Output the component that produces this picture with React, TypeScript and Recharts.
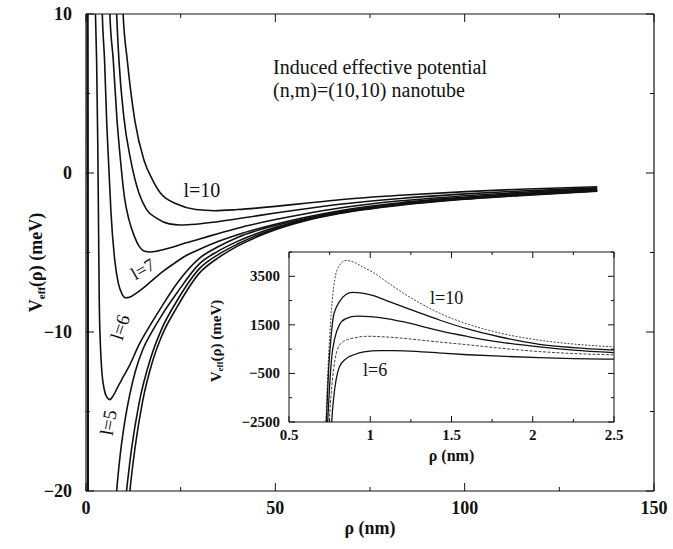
import React from 'react';
import { LineChart, Line, XAxis, YAxis, ReferenceDot } from 'recharts';

const SERIF = 'Liberation Serif, Times New Roman, serif';
const INK = '#111';

// ---- main plot: V_eff(rho) in meV vs rho in nm, one array per angular momentum l ----
const mainL10 = [[9.3,13],[9.8,10],[10.9,7.1],[12.9,3.3],[15.3,0.82],[17.5,-0.4],[19.7,-1.28],[24,-1.95],[29,-2.3],[34,-2.37],[40,-2.3],[50,-2.1],[58,-1.9],[67,-1.68],[83,-1.4],[99,-1.19],[114.5,-1.02],[135,-0.87]];
const mainL9 = [[7.7,13],[8.1,10],[8.7,7.1],[10,3.5],[11.8,0.82],[14,-1.28],[16,-2.3],[18.7,-2.85],[22,-3.2],[25,-3.27],[29,-3.22],[33.5,-3.1],[40,-2.88],[50,-2.52],[58,-2.25],[67,-1.97],[83,-1.6],[99,-1.33],[114.5,-1.13],[135,-0.94]];
const mainL8 = [[5.9,13],[6.3,10],[7.2,7.1],[8.2,3.3],[9.1,0.82],[10.2,-1.6],[11.3,-2.9],[12.8,-4.0],[14,-4.6],[15.3,-4.9],[17,-4.97],[19,-4.9],[23,-4.65],[26,-4.42],[30,-4.15],[35,-3.8],[40,-3.47],[50,-2.93],[58,-2.56],[67,-2.2],[83,-1.75],[99,-1.45],[114.5,-1.22],[135,-1.0]];
const mainL7 = [[4.0,13],[4.3,10],[4.9,7.1],[5.5,3],[6.0,0.5],[6.6,-2.5],[7.6,-5.5],[8.5,-6.9],[9.5,-7.6],[10.5,-7.85],[11.5,-7.82],[13,-7.6],[15,-7.25],[17.5,-6.75],[20,-6.25],[23.2,-5.7],[26,-5.25],[30,-4.8],[35,-4.3],[40,-3.88],[50,-3.22],[58,-2.78],[67,-2.37],[83,-1.87],[99,-1.54],[114.5,-1.29],[135,-1.05]];
const mainL6 = [[2.3,13],[2.5,10],[2.8,7.1],[3.1,2],[3.3,-3],[3.5,-8],[3.8,-10.8],[4.1,-12.2],[4.8,-13.6],[5.5,-14.1],[6.3,-14.25],[7.2,-14.0],[8.5,-13.4],[10,-12.75],[11.6,-12.05],[14,-10.8],[17,-9.55],[20,-8.4],[24,-6.95],[30,-5.35],[35,-4.62],[40,-4.05],[50,-3.3],[58,-2.86],[67,-2.44],[83,-1.93],[99,-1.59],[114.5,-1.34],[135,-1.09]];
const mainL5 = [[0.45,13],[0.6,-25],[4,-40],[7.5,-22],[8.1,-20],[9,-17.8],[10,-16.0],[11.5,-14.0],[13,-12.5],[15,-11.1],[17.5,-9.95],[20,-8.95],[24,-7.55],[30,-5.7],[35,-4.9],[40,-4.3],[50,-3.42],[58,-2.92],[67,-2.48],[83,-1.97],[99,-1.62],[114.5,-1.37],[135,-1.11]];
const mainL4 = [[0.4,13],[0.55,-25],[4,-45],[9.8,-22],[10.7,-20],[12,-17.4],[14,-14.5],[17,-11.7],[20,-9.8],[24,-8.05],[30,-6.0],[35,-5.12],[40,-4.47],[50,-3.5],[58,-2.97],[67,-2.52],[83,-2.0],[99,-1.65],[114.5,-1.4],[135,-1.13]];
const mainL3 = [[0.35,13],[0.5,-25],[4,-50],[10.9,-22],[11.6,-20],[13,-17.2],[15,-14.3],[17.5,-11.9],[20,-10.25],[24,-8.45],[30,-6.28],[35,-5.32],[40,-4.6],[50,-3.57],[58,-3.0],[67,-2.55],[83,-2.03],[99,-1.67],[114.5,-1.42],[135,-1.15]];

const mainXTicks = [0, 25, 50, 75, 100, 125, 150];
const mainXLabels = [0, 50, 100, 150];
const mainYTicks = [-20, -15, -10, -5, 0, 5, 10];
const mainYLabels = [-20, -10, 0, 10];

// ---- inset: rho 0.5..2.5 nm ----
const insetL10 = [[0.715,-4500],[0.727,-2500],[0.74,-300],[0.76,2000],[0.78,3300],[0.81,3950],[0.85,4150],[0.9,4080],[0.95,3900],[1.02,3650],[1.1,3280],[1.2,2820],[1.3,2420],[1.43,1970],[1.6,1530],[1.8,1160],[2.04,870],[2.25,710],[2.5,595]];
const insetL9 = [[0.718,-4500],[0.73,-2500],[0.745,-200],[0.76,1100],[0.773,1840],[0.79,2200],[0.81,2450],[0.85,2750],[0.89,2840],[0.95,2810],[1.02,2700],[1.1,2500],[1.2,2250],[1.3,2000],[1.43,1690],[1.6,1330],[1.8,1000],[2.04,700],[2.25,560],[2.5,460]];
const insetL8 = [[0.726,-4500],[0.738,-2500],[0.75,-1000],[0.765,300],[0.78,900],[0.81,1500],[0.85,1760],[0.92,1860],[1.0,1840],[1.1,1760],[1.2,1630],[1.3,1470],[1.43,1250],[1.6,1020],[1.8,790],[2.04,590],[2.25,460],[2.5,360]];
const insetL7 = [[0.737,-4500],[0.748,-2500],[0.76,-1300],[0.775,-300],[0.79,300],[0.81,650],[0.85,870],[0.9,960],[0.98,1030],[1.1,1000],[1.2,950],[1.3,880],[1.43,790],[1.6,680],[1.8,540],[2.04,400],[2.25,320],[2.5,265]];
const insetL6 = [[0.752,-4500],[0.763,-2500],[0.775,-1500],[0.79,-750],[0.81,-230],[0.85,100],[0.9,270],[0.96,390],[1.06,440],[1.15,440],[1.3,400],[1.43,340],[1.6,270],[1.8,210],[2.04,150],[2.25,110],[2.5,85]];

const insetXTicks = [0.5, 0.75, 1, 1.25, 1.5, 1.75, 2, 2.25, 2.5];
const insetXLabels = [0.5, 1, 1.5, 2, 2.5];
const insetYTicks = [-2500, -1500, -500, 500, 1500, 2500, 3500, 4500];
const insetYLabels = [-2500, -500, 1500, 3500];

const toPts = (arr: number[][]) => arr.map(([x, y]) => ({ x, y }));
const fmt = (v: number) => (v < 0 ? '\u2212' + Math.abs(v) : String(v));

function tickRenderer(side: string, labelled: number[], majorLen: number, minorLen: number, fontSize: number, gap: number, show: boolean) {
  return (props: any) => {
    const { x, y, payload } = props;
    const v = payload.value;
    const isMaj = labelled.some((l) => Math.abs(l - v) < 1e-9);
    const len = isMaj ? majorLen : minorLen;
    let x2 = x, y2 = y;
    if (side === 'bottom') y2 = y - len;
    else if (side === 'top') y2 = y + len;
    else if (side === 'left') x2 = x + len;
    else x2 = x - len;
    let label = null;
    if (show && isMaj) {
      if (side === 'bottom') {
        label = <text x={x} y={y + gap} textAnchor="middle" dominantBaseline="central" fontFamily={SERIF} fontSize={fontSize} fontWeight="bold" fill={INK}>{fmt(v)}</text>;
      } else if (side === 'left') {
        label = <text x={x - gap} y={y} textAnchor="end" dominantBaseline="central" fontFamily={SERIF} fontSize={fontSize} fontWeight="bold" fill={INK}>{fmt(v)}</text>;
      }
    }
    return (
      <g>
        <line x1={x} y1={y} x2={x2} y2={y2} stroke={INK} strokeWidth={1} />
        {label}
      </g>
    );
  };
}

const curveLabel = (text: string, angle: number, fs: number) => (p: any) => {
  const vb = p.viewBox || {};
  const cx = (vb.x || 0) + (vb.width || 0) / 2;
  const cy = (vb.y || 0) + (vb.height || 0) / 2;
  return (
    <text x={cx} y={cy} textAnchor="middle" dominantBaseline="central" fontFamily={SERIF} fontSize={fs} fill={INK} transform={`rotate(${angle} ${cx} ${cy})`}>
      {text}
    </text>
  );
};

const mainSeries = [
  { name: 'l=10', data: mainL10 },
  { name: 'l=9', data: mainL9 },
  { name: 'l=8', data: mainL8 },
  { name: 'l=7', data: mainL7 },
  { name: 'l=6', data: mainL6 },
  { name: 'l=5', data: mainL5 },
  { name: 'l=4', data: mainL4 },
  { name: 'l=3', data: mainL3 },
];

const insetSeries = [
  { name: 'l=10', data: insetL10, dash: '2 1.5', w: 1, c: '#444' },
  { name: 'l=9', data: insetL9, dash: undefined, w: 1.3, c: INK },
  { name: 'l=8', data: insetL8, dash: undefined, w: 1.3, c: INK },
  { name: 'l=7', data: insetL7, dash: '3 1.5', w: 1, c: '#444' },
  { name: 'l=6', data: insetL6, dash: undefined, w: 1.3, c: INK },
];

export default function App() {
  return (
    <div style={{ position: 'absolute', left: 0, top: 0, width: 673, height: 549, background: '#fff', fontFamily: SERIF }}>
      <LineChart width={673} height={549} margin={{ top: 13, right: 18, bottom: 57, left: 85 }}>
        <XAxis
          dataKey="x" type="number" domain={[0, 150]} ticks={mainXTicks} interval={0}
          allowDataOverflow height={1} tickSize={0} tickMargin={0} tickLine={false}
          axisLine={{ stroke: INK, strokeWidth: 1.2 }}
          tick={tickRenderer('bottom', mainXLabels, 8, 4, 18, 17, true)}
          label={{
            content: (p: any) => {
              const vb = p.viewBox;
              const cx = vb.x + vb.width / 2;
              return <text x={cx} y={vb.y + 37} textAnchor="middle" dominantBaseline="central" fontFamily={SERIF} fontSize={18} fontWeight="bold" fill={INK}>ρ (nm)</text>;
            },
          }}
        />
        <XAxis
          xAxisId="top" orientation="top" dataKey="x" type="number" domain={[0, 150]} ticks={mainXTicks} interval={0}
          allowDataOverflow height={1} tickSize={0} tickMargin={0} tickLine={false}
          axisLine={{ stroke: INK, strokeWidth: 1.2 }}
          tick={tickRenderer('top', mainXLabels, 8, 4, 18, 0, false)}
        />
        <YAxis
          type="number" domain={[-20, 10]} ticks={mainYTicks} interval={0}
          allowDataOverflow width={1} tickSize={0} tickMargin={0} tickLine={false}
          axisLine={{ stroke: INK, strokeWidth: 1.2 }}
          tick={tickRenderer('left', mainYLabels, 8, 4, 18, 14, true)}
          label={{
            content: (p: any) => {
              const vb = p.viewBox;
              const cx = vb.x - 49;
              const cy = vb.y + vb.height / 2 + 10;
              return (
                <text x={cx} y={cy} textAnchor="middle" dominantBaseline="central" fontFamily={SERIF} fontSize={18} fontWeight="bold" fill={INK} transform={`rotate(-90 ${cx} ${cy})`}>
                  V<tspan fontSize={11} dy={5}>eff</tspan><tspan dy={-5}>(ρ) (meV)</tspan>
                </text>
              );
            },
          }}
        />
        <YAxis
          yAxisId="right" orientation="right" type="number" domain={[-20, 10]} ticks={mainYTicks} interval={0}
          allowDataOverflow width={1} tickSize={0} tickMargin={0} tickLine={false}
          axisLine={{ stroke: INK, strokeWidth: 1.2 }}
          tick={tickRenderer('right', mainYLabels, 8, 4, 18, 0, false)}
        />
        {mainSeries.map((s) => (
          <Line
            key={s.name} name={s.name} data={toPts(s.data)} dataKey="y" type="monotone"
            dot={false} activeDot={false} stroke={INK} strokeWidth={1.6} isAnimationActive={false}
          />
        ))}
        <ReferenceDot x={30.6} y={-1.07} r={0} fill="none" stroke="none" label={{ content: curveLabel('l=10', 0, 20) }} />
        <ReferenceDot x={15.0} y={-6.05} r={0} fill="none" stroke="none" label={{ content: curveLabel('l=7', -30, 18) }} />
        <ReferenceDot x={9.0} y={-9.7} r={0} fill="none" stroke="none" label={{ content: curveLabel('l=6', -72, 19) }} />
        <ReferenceDot x={5.9} y={-15.7} r={0} fill="none" stroke="none" label={{ content: curveLabel('l=5', -80, 19) }} />
        <ReferenceDot
          x={49.4} y={6.25} r={0} fill="none" stroke="none"
          label={{
            content: (p: any) => {
              const vb = p.viewBox || {};
              const x0 = vb.x + (vb.width || 0) / 2;
              const y0 = vb.y + (vb.height || 0) / 2;
              return (
                <text x={x0} y={y0} fontFamily={SERIF} fontSize={20} fill={INK} textAnchor="start">
                  <tspan x={x0} dy={0}>Induced effective potential</tspan>
                  <tspan x={x0} dy={23}>(n,m)=(10,10) nanotube</tspan>
                </text>
              );
            },
          }}
        />
      </LineChart>

      <div style={{ position: 'absolute', left: 200, top: 240 }}>
        <LineChart width={440} height={230} margin={{ top: 11, right: 25, bottom: 47, left: 88 }}>
          <XAxis
            dataKey="x" type="number" domain={[0.5, 2.5]} ticks={insetXTicks} interval={0}
            allowDataOverflow height={1} tickSize={0} tickMargin={0} tickLine={false}
            axisLine={{ stroke: INK, strokeWidth: 1 }}
            tick={tickRenderer('bottom', insetXLabels, 6, 3, 15, 13, true)}
            label={{
              content: (p: any) => {
                const vb = p.viewBox;
                const cx = vb.x + vb.width / 2;
                return <text x={cx} y={vb.y + 33} textAnchor="middle" dominantBaseline="central" fontFamily={SERIF} fontSize={16} fontWeight="bold" fill={INK}>ρ (nm)</text>;
              },
            }}
          />
          <XAxis
            xAxisId="top" orientation="top" dataKey="x" type="number" domain={[0.5, 2.5]} ticks={insetXTicks} interval={0}
            allowDataOverflow height={1} tickSize={0} tickMargin={0} tickLine={false}
            axisLine={{ stroke: INK, strokeWidth: 1 }}
            tick={tickRenderer('top', insetXLabels, 6, 3, 15, 0, false)}
          />
          <YAxis
            type="number" domain={[-2500, 4500]} ticks={insetYTicks} interval={0}
            allowDataOverflow width={1} tickSize={0} tickMargin={0} tickLine={false}
            axisLine={{ stroke: INK, strokeWidth: 1 }}
            tick={tickRenderer('left', insetYLabels, 6, 3, 15, 9, true)}
            label={{
              content: (p: any) => {
                const vb = p.viewBox;
                const cx = vb.x - 72;
                const cy = vb.y + vb.height / 2 + 4;
                return (
                  <text x={cx} y={cy} textAnchor="middle" dominantBaseline="central" fontFamily={SERIF} fontSize={15} fontWeight="bold" fill={INK} transform={`rotate(-90 ${cx} ${cy})`}>
                    V<tspan fontSize={9} dy={4}>eff</tspan><tspan dy={-4}>(ρ) (meV)</tspan>
                  </text>
                );
              },
            }}
          />
          <YAxis
            yAxisId="right" orientation="right" type="number" domain={[-2500, 4500]} ticks={insetYTicks} interval={0}
            allowDataOverflow width={1} tickSize={0} tickMargin={0} tickLine={false}
            axisLine={{ stroke: INK, strokeWidth: 1 }}
            tick={tickRenderer('right', insetYLabels, 6, 3, 15, 0, false)}
          />
          {insetSeries.map((s) => (
            <Line
              key={s.name} name={s.name} data={toPts(s.data)} dataKey="y" type="monotone"
              dot={false} activeDot={false} stroke={s.c} strokeWidth={s.w} strokeDasharray={s.dash}
              isAnimationActive={false}
            />
          ))}
          <ReferenceDot x={1.47} y={2614} r={0} fill="none" stroke="none" label={{ content: curveLabel('l=10', 0, 18) }} />
          <ReferenceDot x={1.03} y={-356} r={0} fill="none" stroke="none" label={{ content: curveLabel('l=6', 0, 18) }} />
        </LineChart>
      </div>
    </div>
  );
}
